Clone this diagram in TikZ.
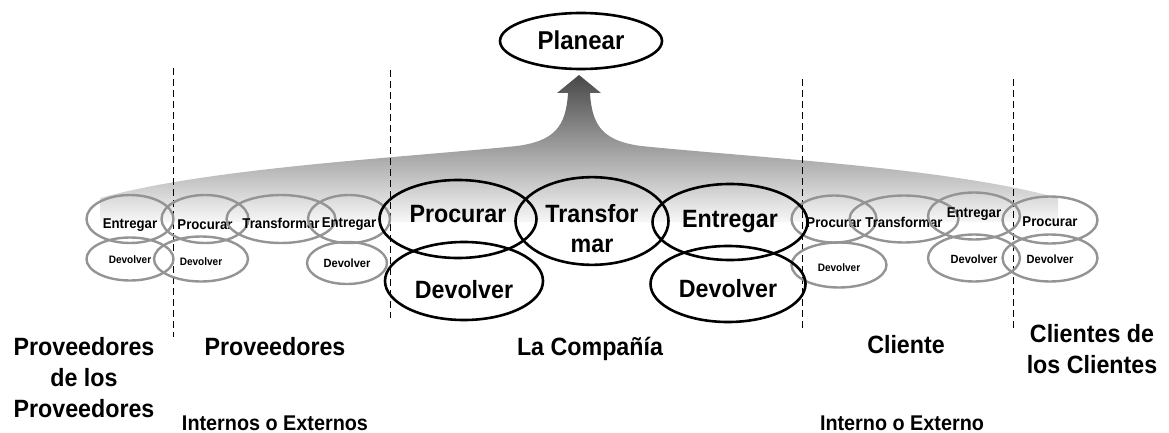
\documentclass[tikz,border=0pt]{standalone}
\usepackage{fontspec}
\setmainfont{Liberation Sans}[FakeStretch=0.93]
\usetikzlibrary{shapes.geometric}
\begin{document}
\begin{tikzpicture}[x=1pt,y=-1pt,
  % text baseline lies #1/2 below the centre of its node
  drop/.style={text height=#1, text depth=0pt},
  proc/.style={ellipse, draw=black, line width=2.6pt, inner sep=0pt, align=center,
    font=\fontsize{25}{30}\selectfont\bfseries},
  sub/.style={ellipse, draw=black!42, line width=2.4pt, inner sep=0pt,
    font=\fontsize{14.2}{16}\selectfont\bfseries},
  subsm/.style={sub, font=\fontsize{10.8}{12}\selectfont\bfseries},
  submd/.style={sub, font=\fontsize{11.9}{13}\selectfont\bfseries},
  tier/.style={align=center, inner sep=0pt, anchor=base, font=\fontsize{25}{31}\selectfont\bfseries},
  note/.style={inner sep=0pt, anchor=base, font=\fontsize{21.3}{24}\selectfont\bfseries},
  divider/.style={dash pattern=on 7pt off 4pt, line width=0.8pt}]
\useasboundingbox (0,0) rectangle (1169,433);

% planning arrow rising from the whole chain
\shade[top color=black!72, middle color=black!30, bottom color=black!3]
  (579,75) -- (601,93) -- (590,93)
  .. controls (592,128) and (605,141) .. (641,146)
  .. controls (760,158) and (950,168) .. (1058,198)
  -- (1058,222) -- (100,222) -- (100,198)
  .. controls (208,168) and (398,158) .. (517,146)
  .. controls (553,141) and (566,128) .. (568,93)
  -- (557,93) -- cycle;

\node[ellipse, draw=black, line width=2.6pt, inner sep=0pt, minimum width=162, minimum height=56,
  font=\fontsize{25.8}{30}\selectfont\bfseries, drop=18pt] (plan) at (581,41) {Planear};

% tier boundaries
\coordinate (d1t) at (173,68);  \coordinate (d1b) at (173,337);
\coordinate (d2t) at (390,70);  \coordinate (d2b) at (390,318);
\coordinate (d3t) at (802,79);  \coordinate (d3b) at (802,330);
\coordinate (d4t) at (1013,79); \coordinate (d4b) at (1013,330);
\draw[divider] (d1t) -- (d1b);
\draw[divider] (d2t) -- (d2b);
\draw[divider] (d3t) -- (d3b);
\draw[divider] (d4t) -- (d4b);

% upstream processes
\node[sub, minimum width=87, minimum height=48, drop=18pt] (ss-ent) at (130,219) {Entregar};
\node[subsm, minimum width=87, minimum height=43, drop=8pt] (ss-dev) at (130,259) {Devolver};
\node[sub, minimum width=87, minimum height=48, drop=20pt] (s-proc) at (205,219) {Procurar};
\node[subsm, minimum width=94, minimum height=45, drop=12pt] (s-dev1) at (201,259) {Devolver};
\node[sub, minimum width=88, minimum height=48, drop=18pt] (s-tra) at (281,219) {Transformar};
\node[sub, minimum width=82, minimum height=48, drop=16pt] (s-ent) at (349,219) {Entregar};
\node[submd, minimum width=80, minimum height=42, drop=8pt] (s-dev2) at (347,263) {Devolver};

% downstream processes
\node[sub, minimum width=85, minimum height=47, drop=16pt] (c-proc) at (834,219) {Procurar};
\node[subsm, minimum width=95, minimum height=45, drop=12pt] (c-dev1) at (839,265) {Devolver};
\node[sub, minimum width=92, minimum height=47, drop=16pt] (c-tra) at (904,219) {Transformar};
\node[sub, minimum width=92, minimum height=47, drop=2pt] (c-ent) at (974,216) {Entregar};
\node[submd, minimum width=92, minimum height=47, drop=10pt] (c-dev2) at (974,258) {Devolver};
\node[sub, minimum width=95, minimum height=47, drop=12pt] (cc-proc) at (1050,220) {Procurar};
\node[submd, minimum width=95, minimum height=47, drop=10pt] (cc-dev) at (1050,258) {Devolver};

% the company
\node[proc, minimum width=157, minimum height=78, drop=6pt] (proc) at (458,219) {Procurar};
\node[proc, minimum width=153, minimum height=80, drop=62pt] (tra) at (592,221) {Transfor\\mar};
\node[proc, minimum width=155, minimum height=76, drop=10pt] (ent) at (730,222) {Entregar};
\node[proc, minimum width=158, minimum height=78, drop=34pt] (dev1) at (464,281) {Devolver};
\node[proc, minimum width=155, minimum height=76, drop=26pt] (dev2) at (728,284) {Devolver};

% tier names (base = baseline of the last line)
\node[tier] (t-pp) at (84,417) {Proveedores\\de los\\Proveedores};
\node[tier] (t-pv) at (275,355) {Proveedores};
\node[tier] (t-co) at (590,355) {La Compañía};
\node[tier] (t-cl) at (906,353) {Cliente};
\node[tier] (t-cc) at (1092,373) {Clientes de\\los Clientes};
\node[note] (n-pv) at (275,430) {Internos o Externos};
\node[note] (n-cl) at (902,430) {Interno o Externo};
\end{tikzpicture}
\end{document}
